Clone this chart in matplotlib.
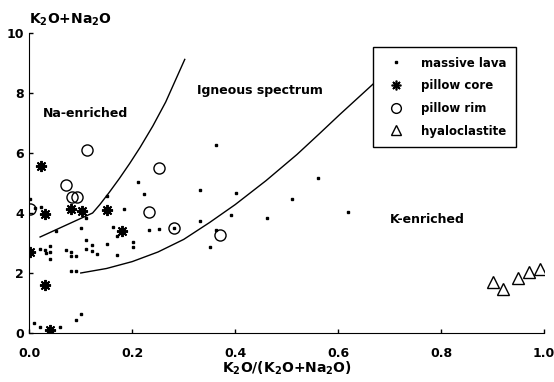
import matplotlib
matplotlib.use("Agg")
import matplotlib.pyplot as plt
from matplotlib.lines import Line2D

plt.rcParams['font.family'] = ['DejaVu Sans']
plt.rcParams['mathtext.default'] = 'bf'

# massive lava (dots)
lava_x = [0.001, 0.012, 0.022, 0.009, 0.021, 0.060, 0.091, 0.100,
          0.021, 0.031, 0.032, 0.041, 0.041, 0.041, 0.071, 0.081, 0.081,
          0.091, 0.081, 0.091, 0.051, 0.111, 0.101, 0.111, 0.121, 0.111,
          0.121, 0.132, 0.151, 0.151, 0.162, 0.171, 0.171, 0.183, 0.202,
          0.202, 0.212, 0.223, 0.232, 0.251, 0.281, 0.331, 0.331, 0.362,
          0.362, 0.352, 0.401, 0.391, 0.461, 0.511, 0.561, 0.620]
lava_y = [4.45, 4.17, 4.20, 0.34, 0.21, 0.21, 0.43, 0.64,
          2.79, 2.76, 2.67, 2.89, 2.70, 2.47, 2.76, 2.70, 2.56,
          2.56, 2.06, 2.06, 3.39, 3.83, 3.50, 3.11, 2.92, 2.80,
          2.74, 2.62, 4.55, 2.95, 3.53, 3.22, 2.59, 4.14, 3.02,
          2.85, 5.02, 4.62, 3.42, 3.48, 3.50, 4.78, 3.73, 6.28,
          3.44, 2.86, 4.67, 3.92, 3.82, 4.46, 5.18, 4.04]

# pillow core (asterisks)
core_x = [0.022, 0.001, 0.030, 0.030, 0.040, 0.081, 0.102, 0.151, 0.181]
core_y = [5.58, 2.70, 3.98, 1.59, 0.10, 4.12, 4.08, 4.09, 3.39]

# pillow rim (open circles)
rim_x = [0.001, 0.113, 0.071, 0.082, 0.093, 0.252, 0.232, 0.281, 0.370]
rim_y = [4.12, 6.10, 4.93, 4.53, 4.53, 5.49, 4.04, 3.50, 3.28]

# hyaloclastite (open triangles)
hyalo_x = [0.900, 0.920, 0.950, 0.971, 0.992]
hyalo_y = [1.70, 1.47, 1.82, 2.03, 2.13]

# field boundaries
upper_x = [0.021, 0.123, 0.137, 0.155, 0.175, 0.195, 0.215, 0.240,
           0.265, 0.302]
upper_y = [3.20, 4.00, 4.28, 4.68, 5.15, 5.65, 6.18, 6.90,
           7.70, 9.12]
lower_x = [0.100, 0.150, 0.200, 0.250, 0.300, 0.350, 0.400, 0.460,
           0.520, 0.564, 0.603, 0.668]
lower_y = [2.00, 2.15, 2.38, 2.70, 3.12, 3.68, 4.28, 5.08,
           5.95, 6.65, 7.28, 8.30]

fig = plt.figure(figsize=(5.54, 3.82), dpi=100)
ax = fig.add_axes([0.0529, 0.1283, 0.9291, 0.7853])

ax.plot(upper_x, upper_y, color='black', lw=1.0)
ax.plot(lower_x, lower_y, color='black', lw=1.0)

ax.plot(lava_x, lava_y, ls='none', marker='s', ms=1.8, color='black')
ax.plot(core_x, core_y, ls='none', marker=(8, 2, 0), ms=8, mew=1.4,
        color='black')
ax.plot(rim_x, rim_y, ls='none', marker='o', ms=8, mfc='none', mec='black',
        mew=1.0)
ax.plot(hyalo_x, hyalo_y, ls='none', marker='^', ms=8, mfc='none',
        mec='black', mew=1.0)

ax.set_xlim(0, 1.0)
ax.set_ylim(0, 10)
ax.set_xticks([0.0, 0.2, 0.4, 0.6, 0.8, 1.0])
ax.set_xticklabels(['0.0', '0.2', '0.4', '0.6', '0.8', '1.0'])
ax.set_yticks([0, 2, 4, 6, 8, 10])
ax.tick_params(direction='in', length=3, width=1, labelsize=9)
ax.tick_params(axis='x', pad=10)
ax.tick_params(axis='y', pad=4)
for lab in ax.get_xticklabels() + ax.get_yticklabels():
    lab.set_fontweight('bold')
ax.spines['top'].set_visible(False)
ax.spines['right'].set_visible(False)

ax.text(0.0, 1.043, r'K$_2$O+Na$_2$O', transform=ax.transAxes,
        ha='left', va='center', fontsize=10, fontweight='bold')
ax.set_xlabel(r'K$_2$O/(K$_2$O+Na$_2$O)', fontsize=10, fontweight='bold',
              labelpad=0)

ax.text(0.027, 7.31, 'Na-enriched', fontsize=9, fontweight='bold',
        va='center')
ax.text(0.326, 8.07, 'Igneous spectrum', fontsize=9, fontweight='bold',
        va='center')
ax.text(0.700, 3.78, 'K-enriched', fontsize=9, fontweight='bold',
        va='center')

handles = [
    Line2D([], [], ls='none', marker='s', ms=1.8, color='black'),
    Line2D([], [], ls='none', marker=(8, 2, 0), ms=7, mew=1.2, color='black'),
    Line2D([], [], ls='none', marker='o', ms=7, mfc='none', mec='black'),
    Line2D([], [], ls='none', marker='^', ms=7, mfc='none', mec='black'),
]
labels = ['massive lava', 'pillow core', 'pillow rim', 'hyaloclastite']
leg = ax.legend(handles, labels, loc='upper left',
                bbox_to_anchor=(0.667, 0.953), borderaxespad=0,
                fancybox=False, edgecolor='black', framealpha=1,
                prop={'weight': 'bold', 'size': 8.5},
                handlelength=2.4, handletextpad=0.9, labelspacing=0.82,
                borderpad=0.8)
leg.get_frame().set_linewidth(1.0)

fig.savefig('out.png', dpi=100)
